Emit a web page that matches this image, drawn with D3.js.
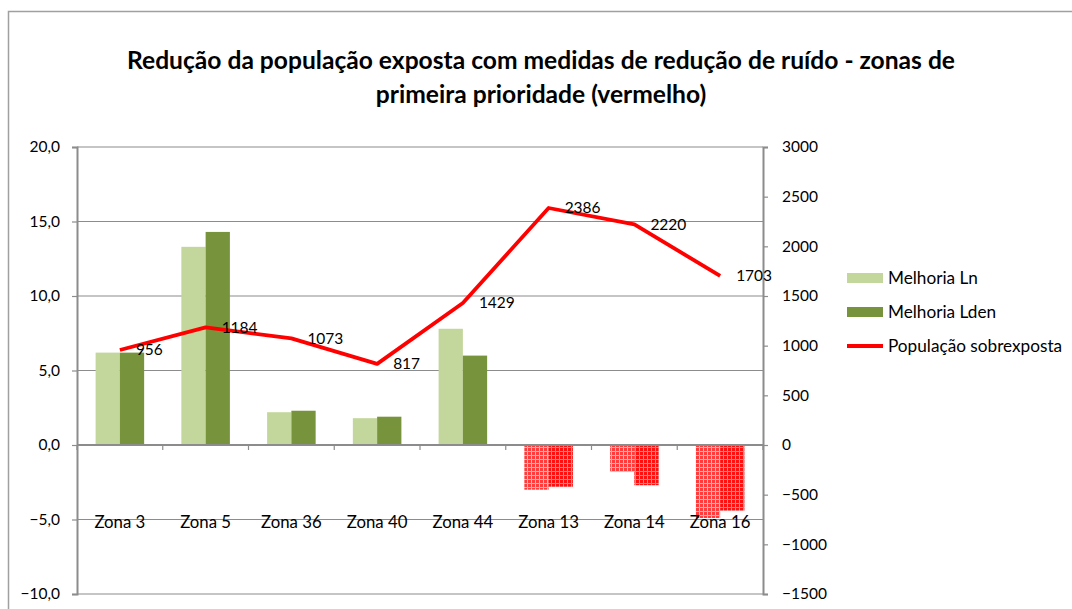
<!DOCTYPE html>
<html>
<head>
<meta charset="utf-8">
<script src="https://cdn.jsdelivr.net/npm/d3@7"></script>
<style>
  body { margin: 0; background: #fff; }
  svg { font-family: Lato, "Liberation Sans", sans-serif; }
</style>
</head>
<body>
<svg id="chart"></svg>
<script>
let categories = ['Zona 3', 'Zona 5', 'Zona 36', 'Zona 40', 'Zona 44', 'Zona 13', 'Zona 14', 'Zona 16'];
let melhoriaLn = [6.2, 13.3, 2.2, 1.8, 7.8, -3.0, -1.8, -4.9];
let melhoriaLden = [6.2, 14.3, 2.3, 1.9, 6.0, -2.8, -2.7, -4.4];
let populacao = [956, 1184, 1073, 817, 1429, 2386, 2220, 1703];
let leftTicks = [-10, -5, 0, 5, 10, 15, 20];
let rightTicks = [-1500, -1000, -500, 0, 500, 1000, 1500, 2000, 2500, 3000];
let seriesNames = ['Melhoria Ln', 'Melhoria Lden', 'População sobrexposta'];

let w = 1072;
let h = 609;
let plotLeft = 77, plotRight = 763, plotTop = 147, plotBottom = 594;

let svg = d3.select('#chart').attr('width', w).attr('height', h);

// hatch patterns for negative bars
let defs = svg.append('defs');
let mkPattern = (id, bg, line) => {
    let p = defs.append('pattern').attr('id', id)
        .attr('patternUnits', 'userSpaceOnUse')
        .attr('width', 4).attr('height', 4);
    p.append('rect').attr('width', 4).attr('height', 4).attr('fill', bg);
    p.append('rect').attr('x', 0).attr('y', 3).attr('width', 4).attr('height', 1).attr('fill', line);
    p.append('rect').attr('x', 3).attr('y', 0).attr('width', 1).attr('height', 4).attr('fill', line);
};
mkPattern('negLn', '#ff3b3b', '#ffb0b0');
mkPattern('negLden', '#ff1010', '#ff8080');

// chart border
svg.append('rect')
    .attr('x', 8.5).attr('y', 11.5)
    .attr('width', w + 10).attr('height', h + 10)
    .attr('fill', 'none').attr('stroke', '#a0a0a0').attr('stroke-width', 1.5);

// title
let title = svg.append('text')
    .attr('text-anchor', 'middle')
    .attr('font-size', 24.6)
    .attr('font-weight', 'bold')
    .attr('fill', '#000');
title.append('tspan').attr('x', 541).attr('y', 69)
    .text('Redução da população exposta com medidas de redução de ruído - zonas de');
title.append('tspan').attr('x', 541).attr('y', 103)
    .text('primeira prioridade (vermelho)');

let yLeft = d3.scaleLinear().domain([-10, 20]).range([plotBottom, plotTop]);
let yRight = d3.scaleLinear().domain([-1500, 3000]).range([plotBottom, plotTop]);
let xScale = d3.scaleBand().domain(categories).range([plotLeft, plotRight]).paddingInner(0.434).paddingOuter(0.217);
let xPoint = d3.scaleBand().domain(categories).range([plotLeft, plotRight]);

// gridlines
svg.append('g')
    .selectAll('line')
    .data(leftTicks)
    .enter()
    .append('line')
    .attr('x1', plotLeft).attr('x2', plotRight)
    .attr('y1', d => yLeft(d)).attr('y2', d => yLeft(d))
    .attr('stroke', '#8c8c8c').attr('stroke-width', 1.2);

// bars
let bw = xScale.bandwidth() / 2;
let drawBars = (vals, cls, posColor, negFill, off) => {
    svg.append('g').selectAll('rect')
        .data(vals)
        .enter()
        .append('rect')
        .attr('class', cls)
        .attr('x', (d, i) => xScale(categories[i]) + off)
        .attr('width', bw)
        .attr('y', d => yLeft(Math.max(d, 0)))
        .attr('height', d => Math.abs(yLeft(d) - yLeft(0)))
        .attr('fill', d => d >= 0 ? posColor : negFill);
};
drawBars(melhoriaLn, 'ln', '#c3d69b', 'url(#negLn)', 0);
drawBars(melhoriaLden, 'lden', '#77933c', 'url(#negLden)', bw);

// zero axis line + ticks between categories
svg.append('line')
    .attr('x1', plotLeft).attr('x2', plotRight)
    .attr('y1', yLeft(0)).attr('y2', yLeft(0))
    .attr('stroke', '#8c8c8c').attr('stroke-width', 2);
svg.append('g').selectAll('line')
    .data(d3.range(categories.length + 1))
    .enter()
    .append('line')
    .attr('x1', i => plotLeft + i * xPoint.step()).attr('x2', i => plotLeft + i * xPoint.step())
    .attr('y1', yLeft(0)).attr('y2', yLeft(0) + 5)
    .attr('stroke', '#8c8c8c').attr('stroke-width', 1.2);

// category labels
svg.append('g').selectAll('text')
    .data(categories)
    .enter()
    .append('text')
    .attr('x', d => xPoint(d) + xPoint.bandwidth() / 2)
    .attr('y', yLeft(-5) + 8)
    .attr('text-anchor', 'middle')
    .attr('font-size', 16.8)
    .text(d => d);

// axes
let fmtLeft = d => d3.format('.1f')(d).replace('.', ',');
let leftAxis = d3.axisLeft(yLeft).tickValues(leftTicks).tickFormat(fmtLeft).tickSize(5).tickPadding(12);
let rightAxis = d3.axisRight(yRight).tickValues(rightTicks).tickFormat(d3.format('d')).tickSize(5).tickPadding(14);

let gl = svg.append('g').attr('id', 'y-axis')
    .attr('transform', 'translate(' + plotLeft + ',0)')
    .call(leftAxis);
let gr = svg.append('g').attr('id', 'y2-axis')
    .attr('transform', 'translate(' + plotRight + ',0)')
    .call(rightAxis);
[gl, gr].forEach(g => {
    g.select('.domain').attr('stroke', '#8c8c8c').attr('stroke-width', 2);
    g.selectAll('.tick line').attr('stroke', '#8c8c8c').attr('stroke-width', 1.2);
    g.selectAll('.tick text').attr('font-size', 15.5).attr('fill', '#000')
        .attr('font-family', 'Lato, sans-serif');
});

// line series
let line = d3.line()
    .x((d, i) => xPoint(categories[i]) + xPoint.bandwidth() / 2)
    .y(d => yRight(d));
svg.append('path')
    .datum(populacao)
    .attr('d', line)
    .attr('fill', 'none')
    .attr('stroke', '#ff0000')
    .attr('stroke-width', 3.8)
    .attr('stroke-linejoin', 'round');

svg.append('g').selectAll('text')
    .data(populacao)
    .enter()
    .append('text')
    .attr('x', (d, i) => xPoint(categories[i]) + xPoint.bandwidth() / 2 + 16)
    .attr('y', d => yRight(d))
    .attr('dy', '0.35em')
    .attr('font-size', 15.5)
    .text(d => d);

// legend
let legend = svg.append('g').attr('transform', 'translate(847,0)');
let legY = [278, 312, 346];
legend.append('rect').attr('x', 0).attr('y', legY[0] - 5).attr('width', 36).attr('height', 10).attr('fill', '#c3d69b');
legend.append('rect').attr('x', 0).attr('y', legY[1] - 5).attr('width', 36).attr('height', 10).attr('fill', '#77933c');
legend.append('line').attr('x1', 0).attr('x2', 36).attr('y1', legY[2]).attr('y2', legY[2])
    .attr('stroke', '#ff0000').attr('stroke-width', 3.8);
legend.selectAll('text.leg')
    .data(seriesNames)
    .enter()
    .append('text')
    .attr('class', 'leg')
    .attr('x', 41)
    .attr('y', (d, i) => legY[i])
    .attr('dy', '0.35em')
    .attr('font-size', 17.2)
    .text(d => d);
</script>
</body>
</html>
